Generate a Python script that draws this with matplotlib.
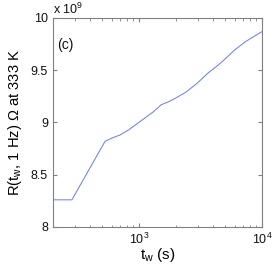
import numpy as np
import matplotlib
matplotlib.use("Agg")
import matplotlib.pyplot as plt
from matplotlib.ticker import FixedLocator, NullFormatter

plt.rcParams['font.family'] = ['Liberation Sans', 'DejaVu Sans']
plt.rcParams['mathtext.fontset'] = 'custom'
plt.rcParams['mathtext.rm'] = 'Liberation Sans'
plt.rcParams['mathtext.it'] = 'Liberation Sans'

# waiting time (s) and resistance (Ohm)
tw = [200, 285, 530, 600, 700, 826, 1050, 1300, 1517, 1750, 1963, 2404,
      3000, 3606, 4200, 4932, 5929, 7262, 8500, 10000]
R = [8.26e9, 8.26e9, 8.82e9, 8.85e9, 8.88e9, 8.93e9, 9.02e9, 9.10e9, 9.17e9,
     9.20e9, 9.23e9, 9.29e9, 9.38e9, 9.47e9, 9.53e9, 9.60e9, 9.69e9, 9.77e9,
     9.82e9, 9.87e9]

yticks = [8e9, 8.5e9, 9e9, 9.5e9, 10e9]
ytick_labels = ['8', '8.5', '9', '9.5', '10']

grey = '#808080'

fig = plt.figure(figsize=(2.73, 2.68), dpi=100)
ax = fig.add_axes([0.194, 0.153, 0.766, 0.78])
ax.plot(tw, R, color='#6677ff', lw=0.7)

ax.set_xscale('log')
ax.set_xlim(200, 1e4)
ax.set_ylim(8e9, 10e9)
ax.set_yticks(yticks)
ax.set_yticklabels(ytick_labels)
ax.set_xticks([1e3, 1e4])
ax.set_xticklabels(['$10^3$', '$10^4$'])
ax.xaxis.set_minor_locator(FixedLocator(
    [m * d for d in (100, 1000) for m in range(2, 10)]))
ax.xaxis.set_minor_formatter(NullFormatter())

for s in ax.spines.values():
    s.set_color(grey)
    s.set_linewidth(0.8)
ax.tick_params(which='both', direction='in', top=True, right=True,
               color=grey, labelsize=9, labelcolor='#111111')
ax.tick_params(which='major', length=3)
ax.tick_params(which='minor', length=1.8)

ax.text(0.0, 1.005, r'x 10$^9$', transform=ax.transAxes, fontsize=9,
        ha='left', va='bottom', color='#111111')
ax.text(0.02, 0.85, '(c)', transform=ax.transAxes, fontsize=10,
        color='#111111')

ax.set_xlabel('t$_w$ (s)', fontsize=11, labelpad=-1)
ax.set_ylabel('R(t$_w$, 1 Hz) Ω at 333 K', fontsize=10.6, labelpad=5)

fig.savefig('out.png', dpi=100)
